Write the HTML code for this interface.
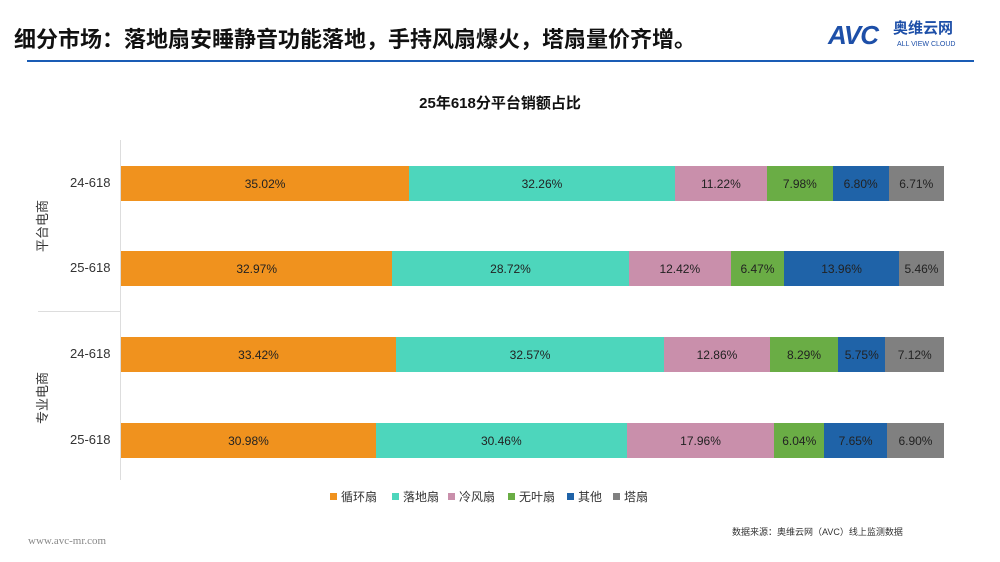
<!DOCTYPE html>
<html><head><meta charset="utf-8"><style>
body{margin:0;width:1000px;height:562px;background:#fff;position:relative;overflow:hidden;font-family:"Liberation Sans","Noto Sans CJK SC",sans-serif}
.a{position:absolute}
.bar{position:absolute;left:121px;width:823px;height:35px;display:flex}
.bar div{height:100%;display:flex;align-items:center;justify-content:center;font-size:12px;color:#222;white-space:nowrap;overflow:hidden}
.lab{position:absolute;left:70px;font-size:13px;color:#333}
.leg{position:absolute;top:488px;font-size:12px;color:#333;display:flex;align-items:center}
.leg i{display:inline-block;width:7px;height:7px;margin-right:4px}
.vt{position:absolute;width:80px;text-align:center;font-size:13px;color:#333;transform:rotate(-90deg);line-height:16px}
</style></head><body>
<div class="a" style="left:14px;top:22px;font-size:22px;font-weight:bold;color:#111">细分市场：落地扇安睡静音功能落地，手持风扇爆火，塔扇量价齐增。</div>
<div class="a" style="left:828px;top:20px;font-size:26px;font-weight:bold;color:#1d4fa8;font-style:italic;letter-spacing:-1px">AVC</div>
<div class="a" style="left:893px;top:20px;font-size:15px;font-weight:bold;color:#1d4fa8;line-height:18px">奥维云网</div>
<div class="a" style="left:897px;top:41px;font-size:7px;color:#1d4fa8;line-height:8px">ALL VIEW CLOUD</div>
<div class="a" style="left:27px;top:60px;width:947px;height:2px;background:#1a5cb5"></div>
<div class="a" style="left:0;width:1000px;top:92px;text-align:center;font-size:15px;font-weight:bold;color:#111">25年618分平台销额占比</div>
<div class="a" style="left:120px;top:140px;width:1px;height:340px;background:#ddd"></div>
<div class="a" style="left:38px;top:311px;width:82px;height:1px;background:#ddd"></div>
<div class="vt" style="left:3px;top:218px">平台电商</div>
<div class="vt" style="left:3px;top:390px">专业电商</div>
<div class="lab" style="top:175px">24-618</div>
<div class="lab" style="top:260px">25-618</div>
<div class="lab" style="top:346px">24-618</div>
<div class="lab" style="top:432px">25-618</div>
<div class="bar" style="top:166px"><div style="width:35.02%;background:#f0921e">35.02%</div><div style="width:32.26%;background:#4dd6bc">32.26%</div><div style="width:11.22%;background:#c98fab">11.22%</div><div style="width:7.98%;background:#6aad45">7.98%</div><div style="width:6.80%;background:#1f63a8">6.80%</div><div style="width:6.71%;background:#808080">6.71%</div></div>
<div class="bar" style="top:251px"><div style="width:32.97%;background:#f0921e">32.97%</div><div style="width:28.72%;background:#4dd6bc">28.72%</div><div style="width:12.42%;background:#c98fab">12.42%</div><div style="width:6.47%;background:#6aad45">6.47%</div><div style="width:13.96%;background:#1f63a8">13.96%</div><div style="width:5.46%;background:#808080">5.46%</div></div>
<div class="bar" style="top:337px"><div style="width:33.42%;background:#f0921e">33.42%</div><div style="width:32.57%;background:#4dd6bc">32.57%</div><div style="width:12.86%;background:#c98fab">12.86%</div><div style="width:8.29%;background:#6aad45">8.29%</div><div style="width:5.75%;background:#1f63a8">5.75%</div><div style="width:7.12%;background:#808080">7.12%</div></div>
<div class="bar" style="top:423px"><div style="width:30.98%;background:#f0921e">30.98%</div><div style="width:30.46%;background:#4dd6bc">30.46%</div><div style="width:17.96%;background:#c98fab">17.96%</div><div style="width:6.04%;background:#6aad45">6.04%</div><div style="width:7.65%;background:#1f63a8">7.65%</div><div style="width:6.90%;background:#808080">6.90%</div></div>
<div class="leg" style="left:330px"><i style="background:#f0921e"></i>循环扇</div>
<div class="leg" style="left:392px"><i style="background:#4dd6bc"></i>落地扇</div>
<div class="leg" style="left:448px"><i style="background:#c98fab"></i>冷风扇</div>
<div class="leg" style="left:508px"><i style="background:#6aad45"></i>无叶扇</div>
<div class="leg" style="left:567px"><i style="background:#1f63a8"></i>其他</div>
<div class="leg" style="left:613px"><i style="background:#808080"></i>塔扇</div>
<div class="a" style="left:732px;top:525px;font-size:9px;color:#333">数据来源：奥维云网（AVC）线上监测数据</div>
<div class="a" style="left:28px;top:535px;font-size:11px;color:#888;font-family:'Liberation Serif',serif">www.avc-mr.com</div>
</body></html>
